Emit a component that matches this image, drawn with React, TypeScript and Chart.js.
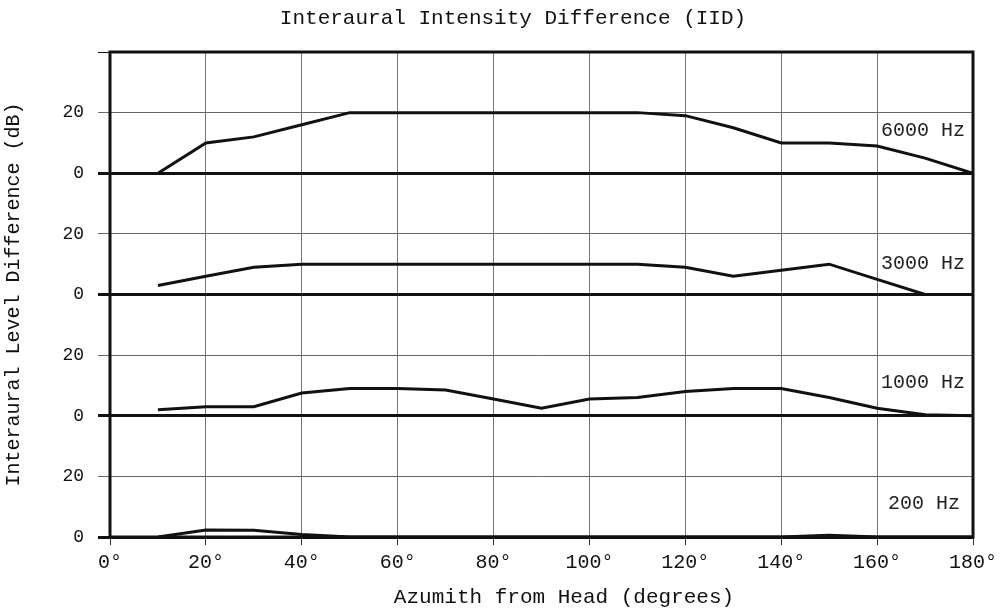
import React, { useEffect, useRef } from "react";
import { Chart, registerables } from "chart.js";

Chart.register(...registerables);

const azimuths = [10, 20, 30, 40, 50, 60, 70, 80, 90, 100, 110, 120, 130, 140, 150, 160, 170, 180];
const hz6000 = [0, 10, 12, 16, 20, 20, 20, 20, 20, 20, 20, 19, 15, 10, 10, 9, 5, 0];
const hz3000 = [3, 6, 9, 10, 10, 10, 10, 10, 10, 10, 10, 9, 6, 8, 10, 5, 0, 0];
const hz1000 = [2, 3, 3, 7.5, 9, 9, 8.5, 5.5, 2.5, 5.5, 6, 8, 9, 9, 6, 2.5, 0.3, 0];
const hz200 = [0, 2.3, 2.2, 0.8, 0, 0, 0, 0, 0, 0, 0, 0, 0, 0, 0.6, 0, 0, 0];
const seriesNames = ["6000 Hz", "3000 Hz", "1000 Hz", "200 Hz"];
const seriesOffsets = [120, 80, 40, 0];
const xTicks = [0, 20, 40, 60, 80, 100, 120, 140, 160, 180];
const yTickLabels = ["0", "20"];
const chartTitle = "Interaural Intensity Difference (IID)";
const xTitle = "Azumith from Head (degrees)";
const yTitle = "Interaural Level Difference (dB)";

const FONT = "'Liberation Mono', 'DejaVu Sans Mono', monospace";

export default function App() {
  const ref = useRef<HTMLCanvasElement | null>(null);
  useEffect(() => {
    document.body.style.margin = "0";
    const canvas = ref.current!;
    const all = [hz6000, hz3000, hz1000, hz200];
    const datasets = all.map((vals, i) => ({
      label: seriesNames[i],
      data: azimuths.map((a, j) => ({ x: a, y: vals[j] + seriesOffsets[i] })),
      borderColor: "#111",
      borderWidth: 3,
      pointRadius: 0,
      tension: 0,
      fill: false,
    }));

    const framePlugin = {
      id: "frame",
      beforeDatasetsDraw(chart: any) {
        const { ctx, chartArea } = chart;
        ctx.save();
        ctx.strokeStyle = "#111";
        ctx.lineWidth = 3;
        ctx.strokeRect(chartArea.left, chartArea.top, chartArea.right - chartArea.left, chartArea.bottom - chartArea.top);
        ctx.restore();
      },
    };
    const labelYs = [134, 90, 51, 11];
    const labelRight = [965, 965, 965, 960];
    const textPlugin = {
      id: "texts",
      afterDatasetsDraw(chart: any) {
        const { ctx } = chart;
        const y = chart.scales.y;
        ctx.save();
        ctx.font = `20px ${FONT}`;
        ctx.fillStyle = "#222";
        ctx.textAlign = "right";
        ctx.textBaseline = "middle";
        seriesNames.forEach((n, i) => {
          ctx.fillText(n, labelRight[i], y.getPixelForValue(labelYs[i]));
        });
        ctx.font = `21px ${FONT}`;
        ctx.fillStyle = "#111";
        ctx.textAlign = "center";
        ctx.fillText(chartTitle, 513, 18);
        ctx.fillText(xTitle, 564, 597);
        ctx.restore();
      },
    };

    const chart = new Chart(canvas, {
      type: "line",
      data: { datasets },
      plugins: [framePlugin, textPlugin],
      options: {
        animation: false,
        responsive: false,
        layout: { padding: { left: 0, right: 28, top: 52, bottom: 0 } },
        plugins: {
          legend: { display: false },
          tooltip: { enabled: false },
          title: { display: false },
        },
        scales: {
          x: {
            type: "linear",
            min: 0,
            max: 180,
            afterBuildTicks(scale: any) {
              scale.ticks = xTicks.map((v) => ({ value: v }));
            },
            afterFit(scale: any) {
              scale.height = 71;
              scale.paddingRight = 0;
              scale.paddingLeft = 0;
            },
            ticks: {
              color: "#111",
              font: { family: FONT, size: 20 },
              padding: 6,
              maxRotation: 0,
              autoSkip: false,
              callback: (v: any) => `${v}°`,
            },
            grid: {
              color: "#777",
              lineWidth: 1,
              tickLength: 8,
              tickColor: "#333",
            },
            border: { display: false },
            title: { display: false, text: xTitle },
          },
          y: {
            type: "linear",
            min: 0,
            max: 160,
            afterBuildTicks(scale: any) {
              const t = [];
              for (let v = 0; v <= 160; v += 20) t.push({ value: v });
              scale.ticks = t;
            },
            afterFit(scale: any) {
              scale.width = 110;
              scale.paddingTop = 0;
              scale.paddingBottom = 0;
            },
            ticks: {
              color: "#111",
              font: { family: FONT, size: 18 },
              padding: 14,
              autoSkip: false,
              callback: (v: any) => (v === 160 ? "" : v % 40 === 0 ? yTickLabels[0] : yTickLabels[1]),
            },
            grid: {
              color: (c: any) => (c.tick && c.tick.value % 40 === 0 ? "#111" : "#666"),
              lineWidth: (c: any) => (c.tick && c.tick.value % 40 === 0 && c.tick.value !== 160 ? 3 : 1),
              tickLength: 12,
            },
            border: { display: false },
            title: {
              display: true,
              text: yTitle,
              color: "#111",
              font: { family: FONT, size: 20 },
              padding: { top: 2, bottom: 0 },
            },
          },
        },
      } as any,
    });
    return () => chart.destroy();
  }, []);
  return (
    <div style={{ width: 1001, height: 608, background: "#fff" }}>
      <canvas ref={ref} width={1001} height={608} style={{ display: "block" }} />
    </div>
  );
}
